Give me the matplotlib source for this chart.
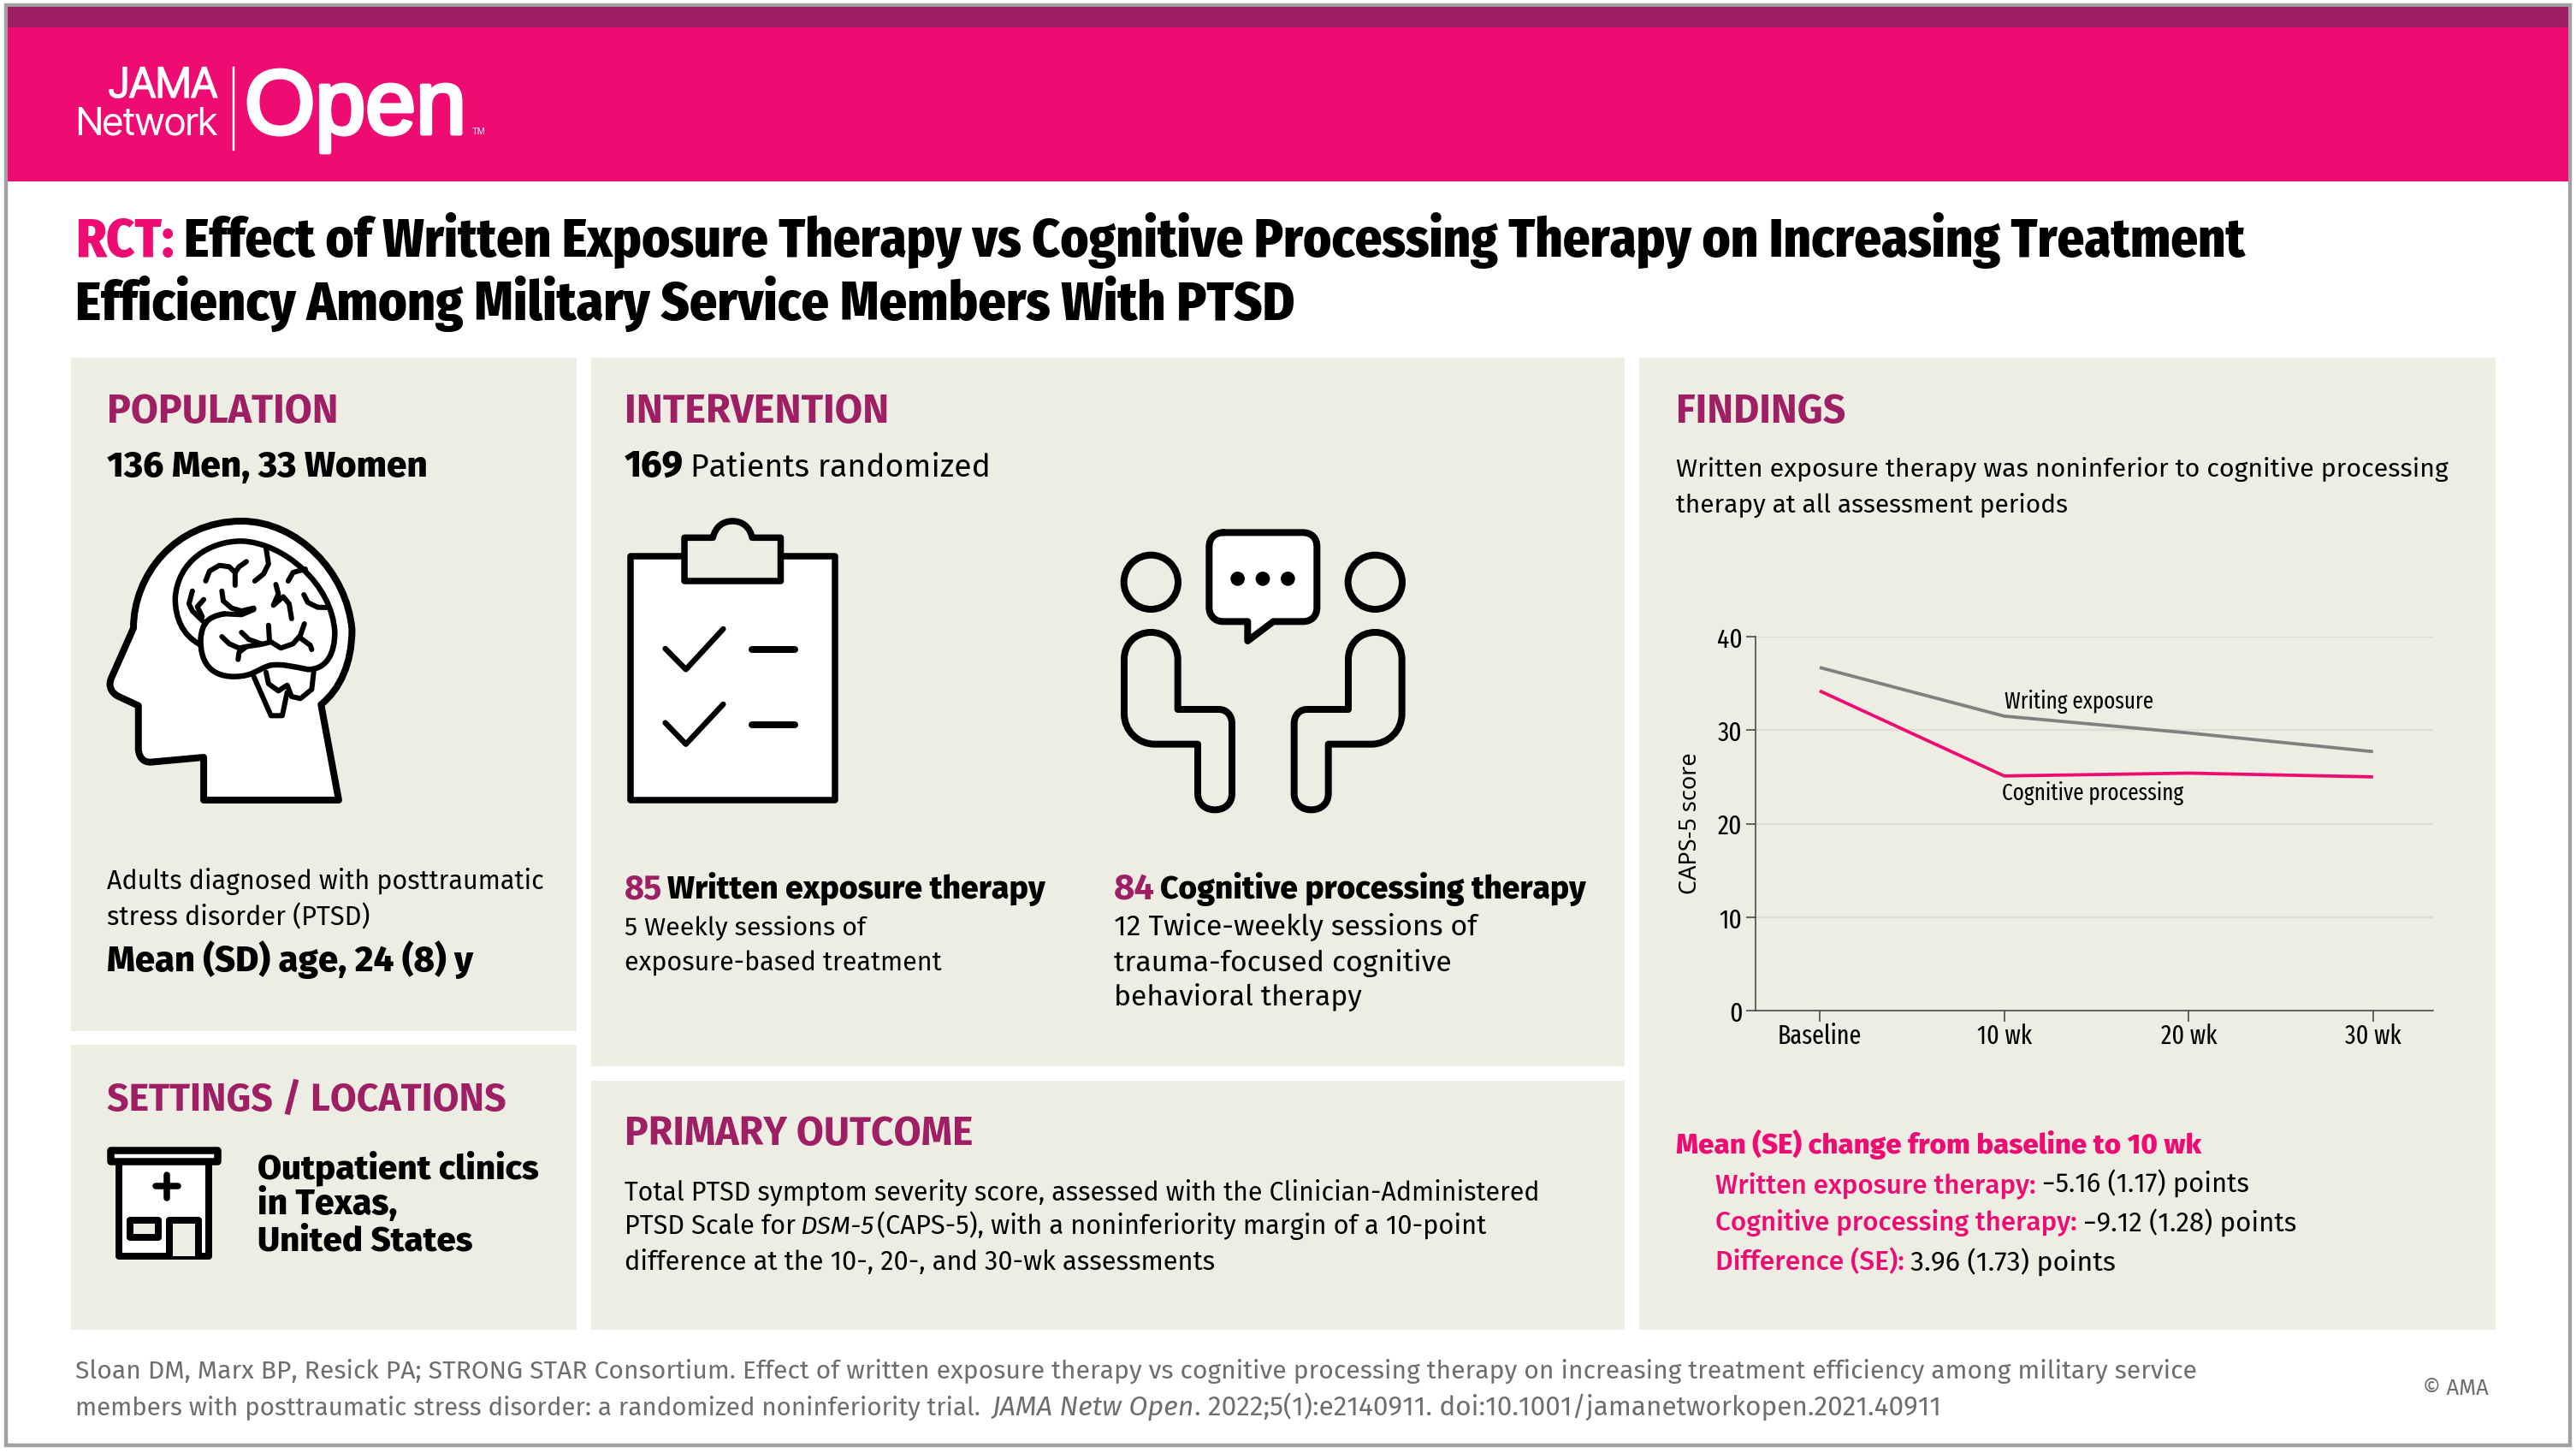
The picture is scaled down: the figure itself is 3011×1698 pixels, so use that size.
import matplotlib
matplotlib.use("Agg")
import logging
logging.getLogger("matplotlib.font_manager").setLevel(logging.ERROR)
import matplotlib.pyplot as plt
import matplotlib.patheffects as pe
from matplotlib.patches import Rectangle, Circle, PathPatch
from matplotlib.path import Path

# ---------- chart data ----------
timepoints = ["Baseline", "10 wk", "20 wk", "30 wk"]
writing_exposure = [36.7, 31.5, 29.7, 27.7]
cognitive_processing = [34.2, 25.1, 25.4, 25.0]
y_ticks = [0, 10, 20, 30, 40]

PINK = "#EE0C72"
PURPLE = "#9E1F63"
PANEL = "#EDEDE4"
GREY = "#6D6E71"

W, H = 3011, 1699
S = W / 1568
fig = plt.figure(figsize=(W / 100, H / 100), dpi=100, facecolor="white")
bg = fig.add_axes([0, 0, 1, 1])
bg.set_xlim(0, W)
bg.set_ylim(H, 0)
bg.axis("off")
renderer = fig.canvas.get_renderer()
LW = 0.72  # points per pixel

BODY = ["Fira Sans", "Lato", "DejaVu Sans"]
COND = ["Fira Sans Condensed", "Lato", "DejaVu Sans"]
FIRA = ["Fira Sans", "Lato", "DejaVu Sans"]
NARROW = ["Fira Sans Extra Condensed", "Lato", "DejaVu Sans"]
LOGO = ["Inter Tight", "Liberation Sans", "DejaVu Sans"]
HELV = ["Liberation Sans", "DejaVu Sans"]


def T(x0, x1, base, s, family=BODY, weight="normal", color="black", style="normal", stroke=0, guess=28):
    """Text placed by left/right ends and baseline, read in 1568-wide coordinates."""
    t = bg.text(x0 * S, base * S, s, family=family, weight=weight, color=color, style=style,
                ha="left", va="baseline", fontsize=guess)
    wpx = t.get_window_extent(renderer).width
    t.set_fontsize(guess * (x1 - x0) * S / wpx)
    if stroke:
        t.set_path_effects([pe.withStroke(linewidth=stroke, foreground=color)])
    return t


# ---------- frame and header ----------
bg.add_patch(Rectangle((7, 7), 2997, 1683.5, fc="white", ec="#A0A0A0", lw=4.4 * LW))
bg.add_patch(Rectangle((9, 9), 2993, 24, fc=PURPLE, ec="none"))
bg.add_patch(Rectangle((9, 33), 2993, 179.5, fc=PINK, ec="none"))

# logo
T(127 / S, 254 / S, 115 / S, "JAMA", LOGO, color="white", weight=500, stroke=0.8)
T(88 / S, 254 / S, 157 / S, "Network", LOGO, color="white", weight=300)
bg.plot([273, 273], [80, 176], color="white", lw=2.5 * LW)
T(286 / S, 545 / S, 157 / S, "Open", HELV, color="white", stroke=3.5, guess=70)
T(552 / S, 568 / S, 157 / S, "TM", HELV, color="white")

# title
TB = dict(family=COND, weight=800, guess=40)
T(46, 106, 156, "RCT:", color=PINK, **TB)
T(112, 1367, 156, "Effect of Written Exposure Therapy vs Cognitive Processing Therapy on Increasing Treatment", **TB)
T(46, 788, 195, "Efficiency Among Military Service Members With PTSD", **TB)

# panels
for x0, x1, y0, y1 in [(43, 351, 218, 628), (43, 351, 636.5, 810), (360, 989, 218, 649.4),
                       (360, 989, 658, 810), (998, 1519, 218, 810)]:
    bg.add_patch(Rectangle((x0 * S, y0 * S), (x1 - x0) * S, (y1 - y0) * S, fc=PANEL, ec="none"))

HEAD = dict(family=FIRA, weight=700, color=PURPLE)
BOLD = dict(family=FIRA, weight=800)

T(65, 206, 257, "POPULATION", **HEAD)
T(65, 260, 290, "136 Men, 33 Women", **BOLD)
T(65, 331, 541, "Adults diagnosed with posttraumatic")
T(65, 225, 563, "stress disorder (PTSD)")
T(65, 288, 591, "Mean (SD) age, 24 (8) y", **BOLD)

T(65, 308, 676, "SETTINGS / LOCATIONS", **HEAD)
T(157, 328, 717, "Outpatient clinics", **BOLD)
T(157, 242, 739, "in Texas,", **BOLD)
T(157, 288, 761, "United States", **BOLD)

T(380, 541, 257, "INTERVENTION", **HEAD)
T(380, 416, 290, "169", **BOLD)
T(420, 603, 290, "Patients randomized")
T(380, 403, 547, "85", **HEAD)
T(406, 636, 547, "Written exposure therapy", **BOLD)
T(380, 527, 569, "5 Weekly sessions of")
T(380, 573, 591, "exposure-based treatment")
T(678, 703, 547, "84", **HEAD)
T(706, 965, 547, "Cognitive processing therapy", **BOLD)
T(678, 900, 569, "12 Twice-weekly sessions of")
T(678, 884, 591, "trauma-focused cognitive")
T(678, 829, 612, "behavioral therapy")

T(380, 592, 697, "PRIMARY OUTCOME", **HEAD)
T(380, 937, 730, "Total PTSD symptom severity score, assessed with the Clinician-Administered")
T(380, 484, 751, "PTSD Scale for")
T(487, 532, 751, "DSM-5", style="italic")
T(534, 906, 751, "(CAPS-5), with a noninferiority margin of a 10-point")
T(380, 739, 773, "difference at the 10-, 20-, and 30-wk assessments")

T(1020, 1123, 257, "FINDINGS", **HEAD)
T(1020, 1491, 290, "Written exposure therapy was noninferior to cognitive processing")
T(1020, 1259, 312, "therapy at all assessment periods")

PB = dict(weight=500, color=PINK, family=FIRA)
T(1020, 1340, 702, "Mean (SE) change from baseline to 10 wk", family=FIRA, weight=800, color=PINK)
T(1044, 1239, 726, "Written exposure therapy:", **PB)
T(1243, 1369, 726, "\u22125.16 (1.17) points")
T(1044, 1264, 749, "Cognitive processing therapy:", **PB)
T(1268, 1398, 749, "\u22129.12 (1.28) points")
T(1044, 1159, 773, "Difference (SE):", **PB)
T(1163, 1288, 773, "3.96 (1.73) points")

T(46, 1338, 839, "Sloan DM, Marx BP, Resick PA; STRONG STAR Consortium. Effect of written exposure therapy vs cognitive "
                 "processing therapy on increasing treatment efficiency among military service", color=GREY)
T(46, 599, 861, "members with posttraumatic stress disorder: a randomized noninferiority trial.", color=GREY)
T(604, 727, 861, "JAMA Netw Open", color=GREY, style="italic")
T(727, 1183, 861, ". 2022;5(1):e2140911. doi:10.1001/jamanetworkopen.2021.40911", color=GREY)
T(1475, 1515, 849, "\u00a9 AMA", color=GREY)


# ---------- icons ----------
def xf(ox, oy, sx, sy):
    return lambda p: (ox + p[0] / sx, oy + p[1] / sy)


def curve(f, start, *segments, close=False):
    verts, codes = [f(start)], [Path.MOVETO]
    for seg in segments:
        if len(seg) == 1:
            verts.append(f(seg[0]))
            codes.append(Path.LINETO)
        else:
            verts.extend(f(p) for p in seg)
            codes.extend([Path.CURVE4] * 3)
    if close:
        verts.append(verts[0])
        codes.append(Path.CLOSEPOLY)
    return Path(verts, codes)


def stroke(path, width, fc="none", cap="round"):
    bg.add_patch(PathPatch(path, fc=fc, ec="black", lw=width * LW, joinstyle="round", capstyle=cap))


def poly(f, pts, width):
    bg.plot(*zip(*[f(p) for p in pts]), color="black", lw=width * LW,
            solid_capstyle="round", solid_joinstyle="round")


z3 = xf(90, 580, 1568 / 900, 3)
# head
stroke(curve(z3, (533, 1068), [(497, 733)], [(535, 680), (560, 590), (560, 470)],
             [(550, 270), (450, 90), (335, 90)], [(200, 90), (115, 280), (115, 465)], [(70, 640)],
             [(62, 670), (72, 695), (85, 705)], [(125, 737)], [(125, 890)], [(127, 925), (138, 935), (150, 935)],
             [(258, 918)], [(258, 1068)], close=True), 8, fc="white")
# brain
stroke(curve(z3, (250, 522), [(215, 490), (200, 430), (200, 360)], [(205, 230), (270, 160), (335, 160)],
             [(420, 165), (520, 310), (525, 480)], [(525, 550), (510, 610), (470, 610)],
             [(440, 600), (420, 590), (395, 595)], [(370, 605), (360, 635), (320, 635)],
             [(270, 635), (250, 580), (252, 500)], [(255, 450), (265, 425), (300, 415)]), 6.5)
for pts in [
    [(385, 185), (390, 240), (380, 275), (362, 300)],
    [(262, 300), (270, 265), (290, 245), (310, 250), (322, 270), (322, 315)],
    [(322, 270), (330, 250), (345, 232)],
    [(235, 335), (228, 380), (235, 405), (250, 430), (262, 450)],
    [(258, 365), (245, 390), (255, 425)],
    [(295, 335), (298, 370), (315, 395), (335, 405), (360, 395)],
    [(300, 415), (335, 418), (360, 400)],
    [(405, 312), (410, 345), (400, 385), (420, 355), (432, 380), (437, 432)],
    [(430, 300), (440, 270), (465, 258)],
    [(462, 348), (470, 375), (490, 392), (510, 393)],
    [(295, 495), (310, 520), (330, 535), (345, 530), (375, 522), (392, 515)],
    [(335, 480), (350, 505), (375, 520)],
    [(390, 455), (392, 510), (415, 535), (440, 520), (455, 490), (463, 450)],
    [(455, 500), (475, 525), (478, 540)],
    [(345, 530), (330, 550), (328, 575)],
    [(385, 620), (390, 660), (410, 685), (428, 665), (437, 705), (455, 712), (478, 680), (482, 620)],
    [(360, 635), (395, 772), (418, 772), (428, 690)],
]:
    poly(z3, pts, 6)

# clipboard
stroke(curve(z3, (1128, 213), [(1543, 213)], [(1543, 1068)], [(1128, 1068)], close=True), 7.5, fc="white")
stroke(curve(z3, (1237, 148), [(1295, 148)], [(1300, 110), (1315, 90), (1335, 90)],
             [(1355, 90), (1370, 110), (1375, 148)], [(1433, 148)], [(1433, 300)], [(1237, 300)], close=True),
       7.5, fc=PANEL)
for pts in [[(1198, 537), (1240, 610), (1316, 468)], [(1198, 797), (1240, 872), (1316, 732)]]:
    poly(z3, pts, 6.5)
for y in (540, 803):
    poly(z3, [(1375, y), (1462, y)], 8)

# conversation
z4 = xf(1270, 590, 3, 3)
for cx in (226, 1012):
    bg.add_patch(Circle(z4((cx, 274)), 95 / 3, fc="none", ec="black", lw=8 * LW))
stroke(curve(z4, (480, 100), [(758, 100)], [(790, 100), (808, 120), (808, 150)], [(808, 362)],
             [(808, 392), (790, 412), (758, 412)], [(655, 412)], [(565, 480)], [(565, 412)], [(480, 412)],
             [(450, 412), (430, 392), (430, 362)], [(430, 150)], [(430, 120), (450, 100), (480, 100)]),
       8, fc="white")
for cx in (530, 618, 706):
    bg.add_patch(Circle(z4((cx, 262)), 25 / 3, fc="black", ec="none"))
for m in (lambda p: p, lambda p: (1238 - p[0], p[1])):
    g = lambda p, m=m: z4(m(p))
    stroke(curve(g, (320, 720), [(320, 545)], [(320, 490), (280, 450), (226, 450)],
                 [(172, 450), (132, 490), (132, 545)], [(132, 735)], [(132, 795), (180, 842), (240, 842)],
                 [(390, 842)], [(390, 1015)], [(390, 1050), (415, 1072), (450, 1072)],
                 [(485, 1072), (510, 1050), (510, 1015)], [(510, 770)], [(510, 740), (490, 720), (465, 720)],
                 close=True), 8)

# clinic
z5 = xf(90, 1300, 3, 3)
stroke(curve(z5, (147, 173), [(462, 173)], [(462, 508)], [(147, 508)], close=True), 8, fc="white")
stroke(curve(z5, (118, 134), [(492, 134)], [(492, 173)], [(118, 173)], close=True), 8.5, fc="white")
poly(z5, [(275, 262), (355, 262)], 7.5)
poly(z5, [(315, 222), (315, 302)], 7.5)
stroke(curve(z5, (186, 380), [(285, 380)], [(285, 440)], [(186, 440)], close=True), 8, fc=PANEL)
stroke(curve(z5, (325, 508), [(325, 380)], [(425, 380)], [(425, 508)]), 8, fc=PANEL)

# ---------- chart ----------
ax = fig.add_axes([2052 / W, (H - 1182) / H, (2844 - 2052) / W, 437 / H], facecolor="none")
x = list(range(len(timepoints)))
ax.set_xlim(-75 / 215.6, (2844 - 2127) / 215.6)
ax.set_ylim(0, 40)
ax.yaxis.grid(True, color="#DEDED9", lw=2.2 * LW)
ax.set_axisbelow(True)
ax.plot(x, writing_exposure, color="#808080", lw=3.8 * LW, solid_capstyle="butt", solid_joinstyle="miter")
ax.plot(x, cognitive_processing, color=PINK, lw=3.8 * LW, solid_capstyle="butt", solid_joinstyle="miter")
for side in ("top", "right"):
    ax.spines[side].set_visible(False)
for side in ("left", "bottom"):
    ax.spines[side].set_color("#444444")
    ax.spines[side].set_linewidth(1.6 * LW)
ax.set_xticks(x, timepoints, family=NARROW, fontsize=22)
ax.set_yticks(y_ticks, [str(v) for v in y_ticks], family=NARROW, fontsize=23)
ax.tick_params(axis="x", length=9, width=1.6 * LW, color="#444444", pad=1)
ax.tick_params(axis="y", length=8, width=1.6 * LW, color="#444444", pad=3)
ax.set_ylabel("CAPS-5 score", family=["Noto Sans", "DejaVu Sans"], fontsize=19.5)
ax.yaxis.set_label_coords(-0.078, 0.503)
ax.text(1, 32.4, "Writing exposure", family=NARROW, fontsize=19.5, ha="left", va="baseline")
ax.text(0.99, 22.6, "Cognitive processing", family=NARROW, fontsize=19.5, ha="left", va="baseline")

fig.savefig("out.png", dpi=100, facecolor="white")
